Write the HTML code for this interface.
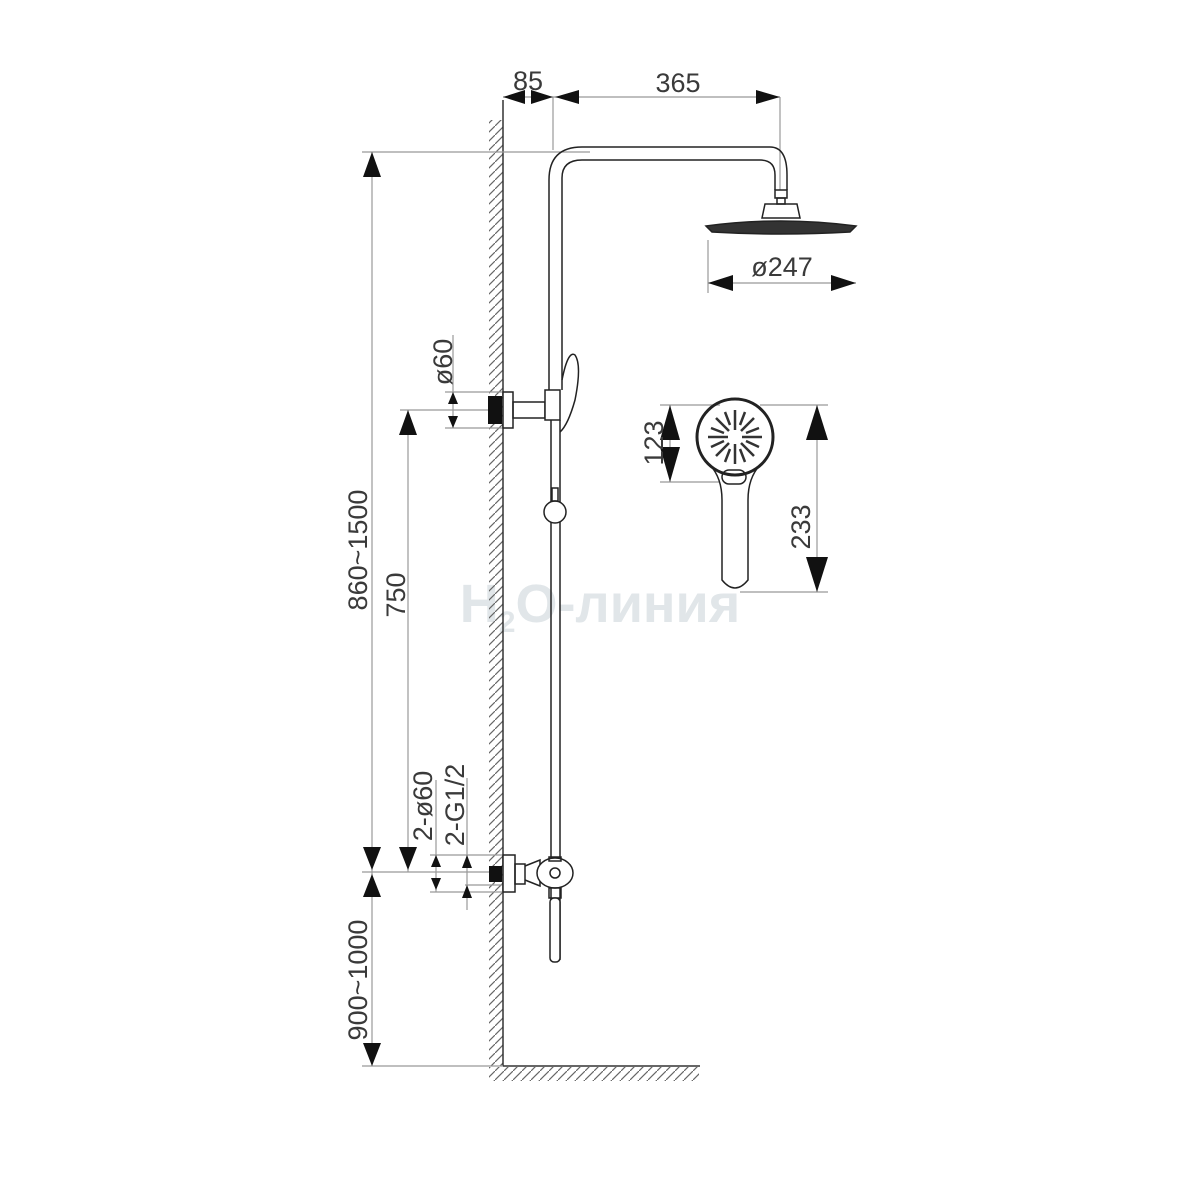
<!DOCTYPE html>
<html><head><meta charset="utf-8"><style>body{margin:0;background:#fff}svg{display:block}</style></head><body>
<svg width="1200" height="1200" viewBox="0 0 1200 1200" xmlns="http://www.w3.org/2000/svg" font-family="Liberation Sans, DejaVu Sans, sans-serif">
<defs>
<pattern id="h" width="9" height="9" patternUnits="userSpaceOnUse"><path d="M0 9 L9 0" stroke="#666" stroke-width="1.2"/></pattern>
</defs>
<text x="600" y="622" font-size="54" font-weight="bold" fill="#e1e6e9" text-anchor="middle">H<tspan font-size="30" dy="10">2</tspan><tspan dy="-10">O-линия</tspan></text>
<!-- wall -->
<rect x="489" y="120" width="14" height="946" fill="url(#h)"/>
<line x1="503" y1="100" x2="503" y2="1066" stroke="#333" stroke-width="1.5"/>
<rect x="489" y="1067" width="210" height="14" fill="url(#h)"/>
<line x1="503" y1="1066" x2="700" y2="1066" stroke="#333" stroke-width="1.5"/>
<g stroke="#999" stroke-width="1.2" fill="none">
<line x1="362" y1="152" x2="590" y2="152"/>
<line x1="372" y1="152" x2="372" y2="1066"/>
<line x1="362" y1="1066" x2="503" y2="1066"/>
<line x1="362" y1="872" x2="503" y2="872"/>
<line x1="408" y1="410" x2="408" y2="872"/>
<line x1="400" y1="410" x2="500" y2="410"/>
<line x1="503" y1="97" x2="780" y2="97"/>
<line x1="553" y1="97" x2="553" y2="150"/>
<line x1="780" y1="97" x2="780" y2="190"/>
<line x1="708" y1="283" x2="856" y2="283"/>
<line x1="708" y1="240" x2="708" y2="293"/>
<line x1="453" y1="335" x2="453" y2="428"/>
<line x1="445" y1="392" x2="503" y2="392"/>
<line x1="445" y1="428" x2="503" y2="428"/>
<line x1="436" y1="780" x2="436" y2="892"/>
<line x1="467" y1="778" x2="467" y2="910"/>
<line x1="430" y1="855" x2="503" y2="855"/>
<line x1="430" y1="892" x2="503" y2="892"/>
<line x1="465" y1="885" x2="503" y2="885"/>
<line x1="670" y1="405" x2="670" y2="482"/>
<line x1="660" y1="405" x2="720" y2="405"/>
<line x1="660" y1="482" x2="720" y2="482"/>
<line x1="817" y1="405" x2="817" y2="592"/>
<line x1="760" y1="405" x2="828" y2="405"/>
<line x1="740" y1="592" x2="828" y2="592"/>
</g>
<g fill="#111">
<polygon points="372,152 363,177 381,177"/>
<polygon points="372,870 363,847 381,847"/>
<polygon points="372,874 363,897 381,897"/>
<polygon points="372,1066 363,1043 381,1043"/>
<polygon points="408,410 399,435 417,435"/>
<polygon points="408,870 399,847 417,847"/>
<polygon points="503,97 525,90 525,104"/>
<polygon points="553,97 531,90 531,104"/>
<polygon points="555,97 579,90 579,104"/>
<polygon points="780,97 756,90 756,104"/>
<polygon points="708,283 733,275 733,291"/>
<polygon points="856,283 831,275 831,291"/>
<polygon points="453,392 448,404 458,404"/>
<polygon points="453,428 448,416 458,416"/>
<polygon points="436,855 431,867 441,867"/>
<polygon points="436,890 431,878 441,878"/>
<polygon points="467,855 462,868 472,868"/>
<polygon points="467,885 462,898 472,898"/>
<polygon points="670,405 660,440 680,440"/>
<polygon points="670,482 660,447 680,447"/>
<polygon points="817,405 806,440 828,440"/>
<polygon points="817,592 806,557 828,557"/>
</g>
<g font-size="27" fill="#3a3a3a">
<text x="528" y="90" text-anchor="middle">85</text>
<text x="678" y="92" text-anchor="middle">365</text>
<text x="782" y="276" text-anchor="middle">ø247</text>
<text transform="translate(452,362) rotate(-90)" text-anchor="middle">ø60</text>
<text transform="translate(367,550) rotate(-90)" text-anchor="middle">860~1500</text>
<text transform="translate(405,595) rotate(-90)" text-anchor="middle">750</text>
<text transform="translate(367,980) rotate(-90)" text-anchor="middle">900~1000</text>
<text transform="translate(432,806) rotate(-90)" text-anchor="middle">2-ø60</text>
<text transform="translate(464,805) rotate(-90)" text-anchor="middle">2-G1/2</text>
<text transform="translate(663,443) rotate(-90)" text-anchor="middle">123</text>
<text transform="translate(810,527) rotate(-90)" text-anchor="middle">233</text>
</g>
<!-- pipe -->
<g stroke="#222" stroke-width="1.5" fill="none">
<path d="M549 390 V180 Q549 147 582 147 H770 Q787 147 787 175 V190"/>
<path d="M562 390 V178 Q562 160 582 160 H760 Q775 160 775 175 V190"/>
<rect x="775" y="190" width="12" height="8"/>
<rect x="777" y="198" width="8" height="6"/>
<path d="M765 204 H797 L800 218 H762 Z"/>
<path d="M706 226 Q780 216 856 226 L850 232 Q780 236 712 232 Z" fill="#333"/>
<rect x="503" y="392" width="10" height="36" fill="#fff"/>
<rect x="513" y="402" width="32" height="16"/>
<rect x="545" y="390" width="15" height="30" fill="#fff"/>
<path d="M551 420 V960 M560 420 V960"/>
<path d="M562 380 Q568 350 575 355 Q582 365 575 400 Q568 425 560 432"/>
<circle cx="555" cy="512" r="11" fill="#fff"/>
<rect x="552" y="488" width="6" height="13"/>
<rect x="503" y="855" width="12" height="37" fill="#fff"/>
<rect x="515" y="864" width="10" height="20"/>
<path d="M525 866 L540 860 L540 886 L525 880"/>
<ellipse cx="555" cy="873" rx="18" ry="15" fill="#fff"/>
<circle cx="555" cy="873" r="5"/>
<rect x="549" y="857" width="12" height="4"/>
<rect x="549" y="888" width="12" height="10"/>
<rect x="550" y="898" width="10" height="64" rx="4" fill="#fff"/>
<circle cx="735" cy="437" r="38" stroke-width="3"/>
<path d="M710 465 Q722 478 722 500 V580 Q735 596 748 580 V500 Q748 478 760 465"/>
<rect x="722" y="470" width="24" height="14" rx="7"/>
</g>
<rect x="488" y="396" width="14" height="28" fill="#111"/>
<rect x="489" y="866" width="13" height="16" fill="#111"/>
<g stroke="#333" stroke-width="2.5">
<path d="M735 410 V430 M735 444 V464 M708 437 H728 M742 437 H762 M716 418 L729 431 M741 443 L754 456 M754 418 L741 431 M729 443 L716 456"/>
<path d="M725 412 L730 425 M745 412 L740 425 M711 428 L724 433 M759 428 L746 433 M711 447 L724 441 M759 447 L746 441 M725 462 L730 449 M745 462 L740 449"/>
</g>
</svg>
</body></html>
